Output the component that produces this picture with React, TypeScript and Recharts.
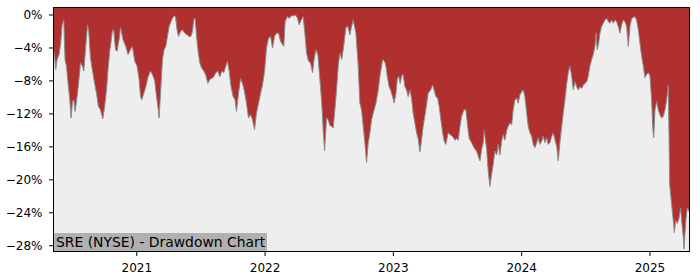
import React from 'react';
import { AreaChart, Area, XAxis, YAxis, CartesianGrid } from 'recharts';

// Time in decimal years
const dates: number[] = [
  2020.347, 2020.361, 2020.368, 2020.379, 2020.394, 2020.407, 2020.418, 2020.431, 2020.441, 2020.452,
  2020.464, 2020.478, 2020.488, 2020.499, 2020.509, 2020.519, 2020.535, 2020.548, 2020.561, 2020.577,
  2020.587, 2020.600, 2020.616, 2020.626, 2020.639, 2020.655, 2020.670, 2020.686, 2020.701, 2020.717,
  2020.735, 2020.748, 2020.764, 2020.776, 2020.789, 2020.800, 2020.811, 2020.821, 2020.834, 2020.846,
  2020.862, 2020.873, 2020.893, 2020.914, 2020.932, 2020.951, 2020.966, 2020.984, 2021.002, 2021.018,
  2021.029, 2021.039, 2021.055, 2021.070, 2021.088, 2021.107, 2021.122, 2021.140, 2021.154, 2021.169,
  2021.174, 2021.185, 2021.200, 2021.213, 2021.226, 2021.239, 2021.252, 2021.271, 2021.289, 2021.302,
  2021.314, 2021.325, 2021.341, 2021.356, 2021.374, 2021.392, 2021.408, 2021.421, 2021.434, 2021.444,
  2021.455, 2021.466, 2021.478, 2021.491, 2021.505, 2021.522, 2021.538, 2021.554, 2021.569, 2021.585,
  2021.600, 2021.616, 2021.632, 2021.647, 2021.663, 2021.678, 2021.694, 2021.707, 2021.720, 2021.735,
  2021.751, 2021.766, 2021.777, 2021.793, 2021.809, 2021.824, 2021.840, 2021.855, 2021.871, 2021.887,
  2021.902, 2021.918, 2021.933, 2021.949, 2021.965, 2021.980, 2021.996, 2022.011, 2022.027, 2022.043,
  2022.058, 2022.074, 2022.089, 2022.105, 2022.121, 2022.136, 2022.146, 2022.156, 2022.172, 2022.188,
  2022.206, 2022.224, 2022.240, 2022.253, 2022.266, 2022.281, 2022.297, 2022.310, 2022.323, 2022.339,
  2022.354, 2022.370, 2022.382, 2022.396, 2022.411, 2022.427, 2022.442, 2022.453, 2022.464, 2022.479,
  2022.492, 2022.505, 2022.518, 2022.531, 2022.544, 2022.557, 2022.570, 2022.583, 2022.598, 2022.614,
  2022.630, 2022.645, 2022.661, 2022.674, 2022.687, 2022.708, 2022.726, 2022.739, 2022.752, 2022.765,
  2022.778, 2022.791, 2022.804, 2022.817, 2022.830, 2022.843, 2022.864, 2022.882, 2022.895, 2022.908,
  2022.916, 2022.931, 2022.942, 2022.952, 2022.967, 2022.978, 2022.994, 2023.006, 2023.020, 2023.030,
  2023.041, 2023.053, 2023.064, 2023.076, 2023.090, 2023.103, 2023.115, 2023.129, 2023.142, 2023.154,
  2023.168, 2023.181, 2023.193, 2023.207, 2023.217, 2023.232, 2023.253, 2023.271, 2023.290, 2023.306,
  2023.318, 2023.331, 2023.345, 2023.357, 2023.370, 2023.384, 2023.396, 2023.409, 2023.427, 2023.441,
  2023.466, 2023.480, 2023.493, 2023.505, 2023.519, 2023.532, 2023.550, 2023.565, 2023.579, 2023.591,
  2023.610, 2023.622, 2023.636, 2023.649, 2023.661, 2023.675, 2023.688, 2023.700, 2023.708, 2023.727,
  2023.739, 2023.752, 2023.766, 2023.778, 2023.791, 2023.805, 2023.817, 2023.830, 2023.844, 2023.856,
  2023.869, 2023.883, 2023.895, 2023.908, 2023.922, 2023.934, 2023.947, 2023.961, 2023.973, 2023.986,
  2024.000, 2024.012, 2024.025, 2024.039, 2024.051, 2024.064, 2024.078, 2024.090, 2024.103, 2024.117,
  2024.129, 2024.142, 2024.156, 2024.168, 2024.181, 2024.195, 2024.207, 2024.220, 2024.234, 2024.246,
  2024.259, 2024.273, 2024.285, 2024.298, 2024.312, 2024.324, 2024.337, 2024.351, 2024.363, 2024.376,
  2024.390, 2024.402, 2024.415, 2024.429, 2024.441, 2024.454, 2024.468, 2024.480, 2024.493, 2024.507,
  2024.519, 2024.532, 2024.545, 2024.558, 2024.571, 2024.579, 2024.589, 2024.600, 2024.610, 2024.623,
  2024.636, 2024.649, 2024.662, 2024.675, 2024.688, 2024.701, 2024.714, 2024.727, 2024.740, 2024.753,
  2024.766, 2024.779, 2024.792, 2024.805, 2024.818, 2024.831, 2024.844, 2024.857, 2024.870, 2024.883,
  2024.896, 2024.909, 2024.922, 2024.935, 2024.948, 2024.961, 2024.974, 2024.987, 2025.000, 2025.013,
  2025.021, 2025.029, 2025.039, 2025.052, 2025.065, 2025.078, 2025.091, 2025.104, 2025.117, 2025.130,
  2025.143, 2025.154, 2025.169, 2025.182, 2025.190, 2025.200, 2025.213, 2025.226, 2025.239, 2025.247,
  2025.260, 2025.265, 2025.273, 2025.281, 2025.291, 2025.312,
];

// Drawdown in percent
const drawdown: number[] = [
  -3.8, -5.2, -6.6, -5.4, -4.8, -3.4, -1.2, -0.6, -5.4, -6.2,
  -8.2, -10.3, -12.5, -10.5, -10.3, -11.7, -9.9, -8.0, -5.8, -6.2,
  -6.8, -4.2, -1.2, -2.0, -5.2, -6.8, -8.2, -9.5, -11.1, -11.5,
  -12.6, -11.3, -9.1, -6.6, -4.4, -3.2, -1.8, -1.9, -4.2, -4.4,
  -3.0, -1.5, -3.0, -3.8, -4.8, -4.2, -3.8, -5.6, -6.2, -7.8,
  -9.9, -10.3, -9.5, -8.7, -7.5, -6.8, -7.2, -8.0, -9.9, -11.7,
  -12.5, -9.5, -5.4, -4.2, -3.8, -2.6, -1.4, -0.6, -0.1, -0.2,
  -1.8, -2.6, -2.0, -1.8, -2.2, -2.4, -2.6, -2.6, -2.0, -0.6,
  -0.4, -2.6, -4.4, -5.8, -6.4, -6.8, -7.3, -8.3, -7.8, -7.7,
  -7.5, -7.0, -6.8, -7.5, -6.8, -7.0, -6.2, -5.6, -6.8, -8.7,
  -9.9, -10.3, -11.7, -9.5, -7.7, -8.3, -9.3, -10.7, -12.5, -12.1,
  -12.7, -13.9, -11.9, -10.7, -9.5, -8.5, -6.8, -4.0, -2.8, -2.6,
  -4.0, -2.6, -2.2, -2.2, -3.2, -3.6, -3.8, -0.8, -0.2, -0.4,
  -0.1, -0.1, 0.0, -0.4, -1.2, -0.6, -0.2, -2.2, -4.6, -5.6,
  -5.8, -7.0, -5.4, -4.2, -4.8, -7.8, -10.7, -14.0, -16.5, -12.5,
  -12.7, -13.4, -13.5, -13.7, -11.5, -9.1, -6.2, -4.6, -5.4, -3.6,
  -1.5, -1.4, -2.4, -1.4, -0.6, -2.2, -6.2, -10.7, -11.5, -13.5,
  -15.5, -17.9, -15.5, -14.3, -12.7, -11.9, -10.7, -9.1, -7.4, -6.2,
  -5.4, -5.6, -6.2, -7.4, -8.7, -9.1, -9.9, -10.7, -9.5, -7.8,
  -7.4, -8.3, -7.4, -7.2, -8.7, -9.1, -9.9, -9.1, -10.1, -11.9,
  -13.1, -14.3, -15.0, -16.6, -15.5, -13.5, -11.5, -9.5, -9.1, -8.5,
  -9.1, -9.9, -10.1, -11.1, -12.7, -14.3, -15.3, -15.7, -14.3, -14.5,
  -14.8, -15.2, -15.0, -15.2, -13.5, -12.3, -11.5, -11.5, -13.5, -15.0,
  -15.5, -15.9, -16.3, -16.5, -17.1, -17.7, -16.3, -15.5, -14.0, -16.3,
  -18.9, -20.8, -19.3, -18.1, -16.5, -17.0, -15.7, -17.0, -15.3, -14.5,
  -15.2, -14.0, -13.5, -13.1, -13.3, -11.5, -10.3, -10.1, -10.7, -9.7,
  -9.3, -9.1, -9.9, -11.9, -13.5, -14.3, -14.7, -15.7, -16.1, -15.5,
  -14.9, -15.7, -15.3, -14.7, -15.5, -14.9, -15.7, -15.5, -14.7, -14.3,
  -15.1, -15.9, -17.7, -15.5, -13.5, -11.9, -10.3, -8.3, -7.0, -6.2,
  -7.4, -9.1, -8.1, -8.7, -9.1, -8.7, -8.9, -8.5, -8.3, -8.1,
  -7.4, -6.2, -5.4, -4.8, -3.8, -2.2, -4.2, -3.4, -2.2, -1.4,
  -1.0, -0.6, -0.4, -0.8, -1.0, -0.6, -1.0, -0.6, -0.8, -1.4,
  -2.2, -1.2, -0.6, -0.8, -1.4, -3.8, -1.4, -0.4, -0.3, -0.2,
  -0.6, -1.8, -3.4, -5.0, -6.2, -7.6, -7.2, -7.0, -7.4, -10.3,
  -13.5, -14.9, -11.5, -10.5, -11.5, -12.1, -12.5, -12.3, -11.5, -10.3,
  -8.5, -20.6, -23.0, -25.0, -26.4, -24.9, -25.3, -24.7, -23.4, -25.0,
  -27.0, -28.4, -26.5, -24.7, -23.4, -24.0,
];

const yearTicks: number[] = [2021, 2022, 2023, 2024, 2025];
const pctTicks: number[] = [0, -4, -8, -12, -16, -20, -24, -28];
const title = 'SRE (NYSE) - Drawdown Chart';

const data = dates.map((t, i) => ({ t, dd: drawdown[i] }));

const FONT = '"DejaVu Sans", sans-serif';

const fmtPct = (v: number) => (v === 0 ? '0%' : `\u2212${Math.abs(v)}%`);

export default function App() {
  return (
    <div style={{ position: 'absolute', left: 0, top: 0, width: 700, height: 280, background: '#fff', fontFamily: FONT }}>
      <AreaChart
        width={700}
        height={280}
        data={data}
        margin={{ top: 7, right: 10, bottom: 0, left: 0 }}
      >
        <CartesianGrid fill="#eeeeee" horizontal={false} vertical={false} stroke="none" />
        <XAxis
          dataKey="t"
          type="number"
          domain={[2020.347, 2025.312]}
          ticks={yearTicks}
          tickFormatter={(v: number) => String(v)}
          height={28}
          axisLine={false}
          tickLine={{ stroke: '#000' }}
          tickSize={4}
          tickMargin={7}
          tick={{ fill: '#000', fontSize: 12, fontFamily: FONT }}
          allowDataOverflow
        />
        <YAxis
          type="number"
          domain={[-28.76, 0.97]}
          ticks={pctTicks}
          tickFormatter={fmtPct}
          width={53}
          axisLine={false}
          tickLine={{ stroke: '#000' }}
          tickSize={4}
          tickMargin={6.5}
          tick={{ fill: '#000', fontSize: 12, fontFamily: FONT }}
          allowDataOverflow
        />
        <Area
          type="linear"
          dataKey="dd"
          baseValue="dataMax"
          fill="#b03030"
          fillOpacity={1}
          stroke="#8a8a8a"
          strokeWidth={1}
          isAnimationActive={false}
          dot={false}
          activeDot={false}
        />
      </AreaChart>
      <div
        style={{
          position: 'absolute',
          left: 53,
          top: 233,
          width: 214,
          height: 19,
          background: '#b0b0b0',
          color: '#000',
          fontSize: 13.9,
          lineHeight: '19px',
          paddingLeft: 3,
          boxSizing: 'border-box',
          whiteSpace: 'nowrap',
          fontFamily: FONT,
        }}
      >
        {title}
      </div>
      <div
        style={{
          position: 'absolute',
          left: 53,
          top: 7,
          width: 637,
          height: 245,
          border: '1px solid #000',
          boxSizing: 'border-box',
          pointerEvents: 'none',
        }}
      />
    </div>
  );
}
